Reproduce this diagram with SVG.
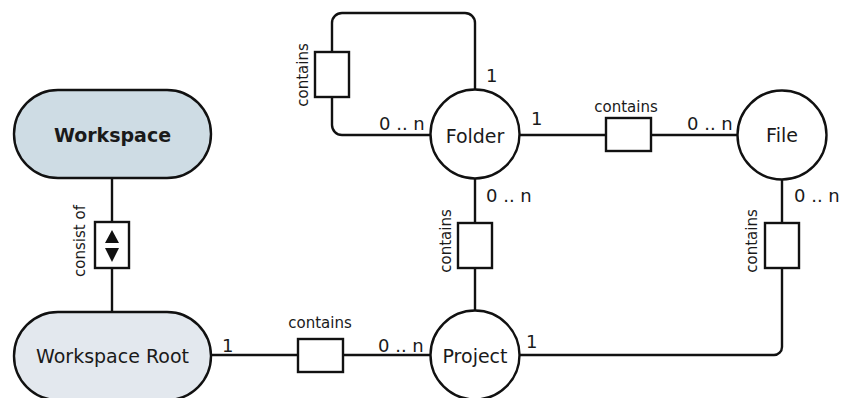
<svg xmlns="http://www.w3.org/2000/svg" width="842" height="398" viewBox="0 0 842 398">
  <defs>
    <style>
      .edge { fill: none; stroke: #111; stroke-width: 2.4; }
      .assoc { fill: #fff; stroke: #111; stroke-width: 2.4; }
      .node { stroke: #111; stroke-width: 2.4; }
      .entity { fill: #fff; stroke: #111; stroke-width: 2.4; }
      text { font-family: "DejaVu Sans", "Liberation Sans", sans-serif; fill: #1a1a1a; }
      .name { font-size: 19px; text-anchor: middle; }
      .bold { font-weight: bold; }
      .rel { font-size: 15px; text-anchor: middle; }
      .card { font-size: 18px; }
    </style>
  </defs>

  <!-- connectors with their relation boxes and cardinalities -->
  <g id="connectors">
    <!-- Workspace consists of Workspace Root -->
    <line class="edge" x1="112" y1="178" x2="112" y2="312"/>
    <rect class="assoc" x="95" y="222" width="34" height="46"/>
    <path d="M112,230 L119,243 L105,243 Z M105,248 L119,248 L112,262 Z" fill="#111"/>
    <text class="rel" transform="translate(85,241) rotate(-90)">consist of</text>

    <!-- Folder contains Folder (self loop) -->
    <path class="edge" d="M475,89 V23 A10,10 0 0 0 465,13 H342 A10,10 0 0 0 332,23 V125 A10,10 0 0 0 342,135 H431"/>
    <rect class="assoc" x="315" y="52" width="34" height="45"/>
    <text class="rel" transform="translate(308,75) rotate(-90)">contains</text>
    <text class="card" x="486" y="82">1</text>
    <text class="card" x="379" y="130">0 .. n</text>

    <!-- Folder contains File -->
    <line class="edge" x1="520" y1="135" x2="738" y2="135"/>
    <rect class="assoc" x="606" y="118" width="45" height="33"/>
    <text class="rel" x="626" y="112">contains</text>
    <text class="card" x="531" y="125">1</text>
    <text class="card" x="687" y="130">0 .. n</text>

    <!-- Project contains Folder -->
    <line class="edge" x1="475" y1="179" x2="475" y2="311"/>
    <rect class="assoc" x="458" y="223" width="34" height="45"/>
    <text class="rel" transform="translate(451,241) rotate(-90)">contains</text>
    <text class="card" x="486" y="202">0 .. n</text>

    <!-- Project contains File -->
    <path class="edge" d="M782,180 V347 A8,8 0 0 1 774,355 H519"/>
    <rect class="assoc" x="765" y="223" width="34" height="45"/>
    <text class="rel" transform="translate(757,241) rotate(-90)">contains</text>
    <text class="card" x="794" y="202">0 .. n</text>
    <text class="card" x="526" y="348">1</text>

    <!-- Workspace Root contains Project -->
    <line class="edge" x1="211" y1="355" x2="431" y2="355"/>
    <rect class="assoc" x="298" y="339" width="45" height="33"/>
    <text class="rel" x="320" y="328">contains</text>
    <text class="card" x="222" y="352">1</text>
    <text class="card" x="378" y="352">0 .. n</text>
  </g>

  <g id="workspace">
    <rect class="node" x="14" y="90" width="197" height="88" rx="44" fill="#cedce4"/>
    <text class="name bold" x="112.5" y="142">Workspace</text>
  </g>

  <g id="workspace-root">
    <rect class="node" x="14" y="312" width="197" height="88" rx="44" fill="#e3e8ee"/>
    <text class="name" x="112.5" y="363">Workspace Root</text>
  </g>

  <g id="folder">
    <circle class="entity" cx="475" cy="134" r="44.5"/>
    <text class="name" x="475" y="143">Folder</text>
  </g>

  <g id="file">
    <circle class="entity" cx="782" cy="135" r="44.5"/>
    <text class="name" x="782" y="142">File</text>
  </g>

  <g id="project">
    <circle class="entity" cx="475" cy="355" r="44.5"/>
    <text class="name" x="475" y="363">Project</text>
  </g>
</svg>
